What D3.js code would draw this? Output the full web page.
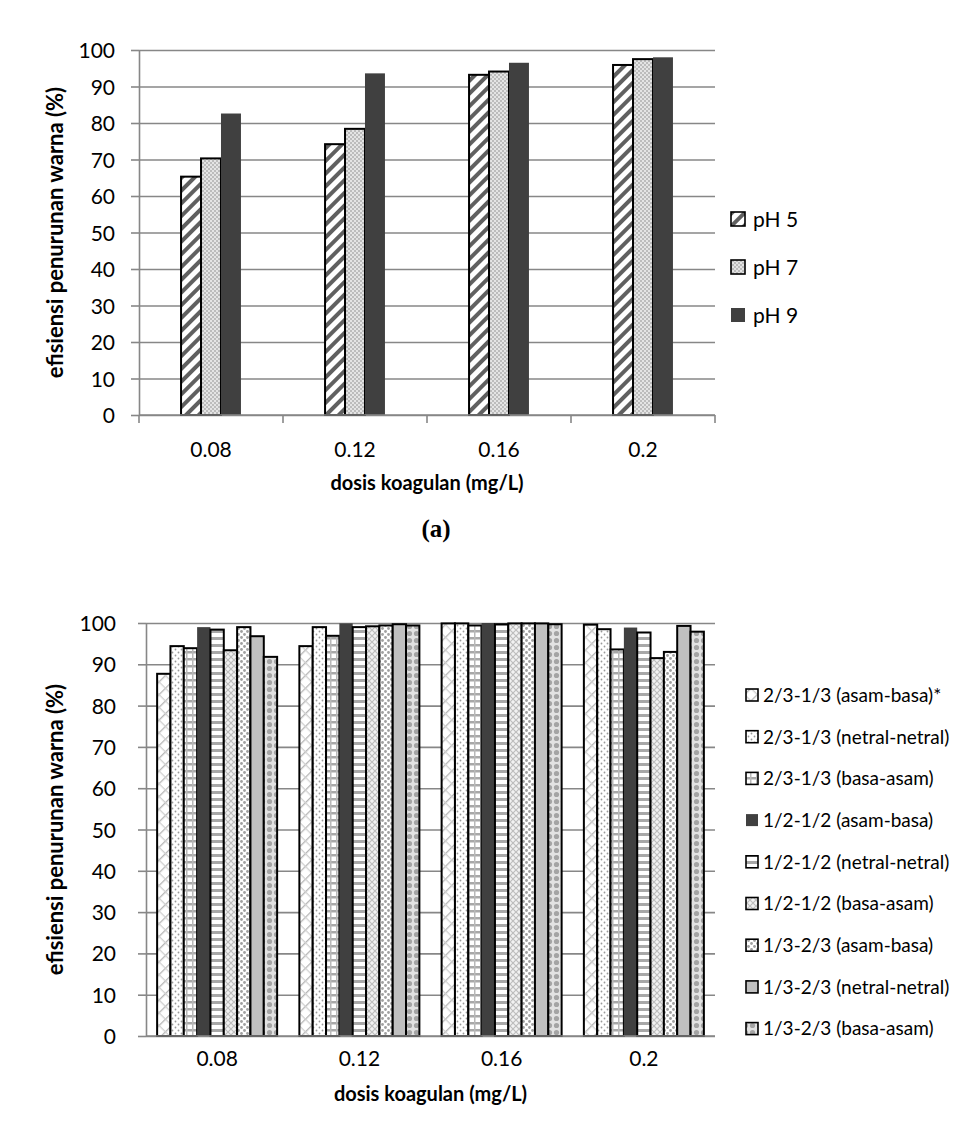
<!DOCTYPE html>
<html>
<head>
<meta charset="utf-8">
<script src="https://cdn.jsdelivr.net/npm/d3@7"></script>
<style>
  body { margin: 0; background: #fff; }
  svg { display: block; }
  text { font-family: Lato, "Open Sans", sans-serif; fill: #000; }
</style>
</head>
<body>
<div id="chart"></div>
<script>
// ---- data (a) ----
const dosesA = ['0.08', '0.12', '0.16', '0.2'];
const seriesA = ['pH 5', 'pH 7', 'pH 9'];
const pH5 = [65.3, 74.2, 93.2, 95.9];
const pH7 = [70.3, 78.4, 94.1, 97.5];
const pH9 = [82.6, 93.6, 96.5, 98.0];
const valuesA = [pH5, pH7, pH9];

// ---- data (b) ----
const dosesB = ['0.08', '0.12', '0.16', '0.2'];
const seriesB = [
  '2/3-1/3 (asam-basa)*', '2/3-1/3 (netral-netral)', '2/3-1/3 (basa-asam)',
  '1/2-1/2 (asam-basa)', '1/2-1/2 (netral-netral)', '1/2-1/2 (basa-asam)',
  '1/3-2/3 (asam-basa)', '1/3-2/3 (netral-netral)', '1/3-2/3 (basa-asam)'
];
const valuesB = [
  [87.7, 94.4, 99.9, 99.6],
  [94.4, 99.0, 99.9, 98.5],
  [93.9, 96.9, 99.4, 93.6],
  [99.0, 99.9, 100, 98.9],
  [98.4, 99.0, 99.7, 97.7],
  [93.4, 99.2, 99.9, 91.5],
  [99.0, 99.4, 99.9, 93.0],
  [96.8, 99.7, 99.9, 99.3],
  [91.8, 99.4, 99.7, 97.9]
];
const yTicks = [0, 10, 20, 30, 40, 50, 60, 70, 80, 90, 100];

const svg = d3.select('#chart').append('svg')
  .attr('width', 970).attr('height', 1126);
const defs = svg.append('defs');

// patterns
function pat(id, w, h, bg, draw, rot) {
  const p = defs.append('pattern').attr('id', id)
    .attr('patternUnits', 'userSpaceOnUse').attr('width', w).attr('height', h);
  if (rot) p.attr('patternTransform', `rotate(${rot})`);
  p.append('rect').attr('width', w).attr('height', h).attr('fill', bg);
  draw(p);
}
pat('ph5', 9, 9, '#fff', p => p.append('rect').attr('x', 0).attr('width', 4).attr('height', 9).attr('fill', '#606060'), 45);
pat('ph7', 4, 4, '#e4e4e4', p => {
  p.append('rect').attr('width', 2).attr('height', 2).attr('fill', '#bcbcbc');
  p.append('rect').attr('x', 2).attr('y', 2).attr('width', 2).attr('height', 2).attr('fill', '#bcbcbc');
});
pat('b1', 9, 9, '#fff', p => {
  p.append('rect').attr('width', 1.3).attr('height', 9).attr('fill', '#b4b4b4');
  p.append('rect').attr('width', 9).attr('height', 1.3).attr('fill', '#d0d0d0');
}, 45);
pat('b2', 6, 6, '#fff', p => {
  p.append('circle').attr('cx', 1.5).attr('cy', 1.5).attr('r', 0.9).attr('fill', '#9a9a9a');
  p.append('circle').attr('cx', 4.5).attr('cy', 4.5).attr('r', 0.9).attr('fill', '#9a9a9a');
});
pat('b3', 6, 7, '#fff', p => {
  p.append('rect').attr('y', 0).attr('width', 6).attr('height', 2.5).attr('fill', '#a8a8a8');
  p.append('rect').attr('x', 0).attr('width', 1.5).attr('height', 7).attr('fill', '#b8b8b8');
});
pat('b5', 6, 7, '#fff', p => p.append('rect').attr('width', 6).attr('height', 3).attr('fill', '#a8a8a8'));
pat('b6', 6, 6, '#f2f2f2', p => {
  p.append('path').attr('d', 'M0,0L6,6M6,0L0,6').attr('stroke', '#bdbdbd').attr('stroke-width', 1.2);
});
pat('b7', 6, 6, '#fff', p => {
  p.append('circle').attr('cx', 1.5).attr('cy', 1.5).attr('r', 1.4).attr('fill', '#a0a0a0');
  p.append('circle').attr('cx', 4.5).attr('cy', 4.5).attr('r', 1.4).attr('fill', '#a0a0a0');
});
pat('b9', 7, 7, '#e2e2e2', p => {
  p.append('circle').attr('cx', 3.5).attr('cy', 3.5).attr('r', 2.6).attr('fill', '#a4a4a4');
});

const fillsA = ['url(#ph5)', 'url(#ph7)', '#404040'];
const fillsB = ['url(#b1)', 'url(#b2)', 'url(#b3)', '#404040', 'url(#b5)',
  'url(#b6)', 'url(#b7)', '#c0c0c0', 'url(#b9)'];

function drawChart(cfg) {
  const { cats, series, values, fills, x0, x1, yTop, yBot, padInner, showXTicks, legend } = cfg;
  const g = svg.append('g');
  const xScale = d3.scaleBand().domain(cats).range([x0, x1])
    .paddingInner(padInner).paddingOuter(padInner / 2);
  const xSub = d3.scaleBand().domain(d3.range(series.length)).range([0, xScale.bandwidth()]);
  const yScale = d3.scaleLinear().domain([0, 100]).range([yBot, yTop]);

  // gridlines
  g.append('g').attr('transform', `translate(${x0},0)`)
    .call(d3.axisLeft(yScale).tickValues(yTicks).tickSize(-(x1 - x0)).tickFormat(''))
    .call(a => a.select('.domain').remove())
    .call(a => a.selectAll('line').attr('stroke', '#878787').attr('stroke-width', 1.6));

  // y axis
  g.append('g').attr('transform', `translate(${x0},0)`)
    .call(d3.axisLeft(yScale).tickValues(yTicks).tickSize(8).tickPadding(cfg.tickPad).tickSizeOuter(0))
    .call(a => a.select('.domain').attr('stroke', '#878787').attr('stroke-width', 1.6))
    .call(a => a.selectAll('line').attr('stroke', '#878787').attr('stroke-width', 1.6))
    .call(a => a.selectAll('text').style('font-size', '21px').attr('dy', '0.36em'));

  // bars
  series.forEach((s, i) => {
    g.selectAll(null).data(values[i]).enter().append('rect')
      .attr('x', (d, j) => xScale(cats[j]) + xSub(i))
      .attr('y', d => yScale(d))
      .attr('width', xSub.bandwidth())
      .attr('height', d => yBot - yScale(d))
      .attr('fill', fills[i])
      .attr('stroke', fills[i] === '#404040' ? 'none' : '#000')
      .attr('stroke-width', 2);
  });

  // x axis line
  g.append('line').attr('x1', x0).attr('x2', x1).attr('y1', yBot).attr('y2', yBot)
    .attr('stroke', '#878787').attr('stroke-width', 1.6);
  if (showXTicks) {
    const bounds = cats.map(c => xScale(c) - xScale.step() * padInner / 2).concat([x1]);
    g.selectAll(null).data(bounds).enter().append('line')
      .attr('x1', d => d).attr('x2', d => d).attr('y1', yBot).attr('y2', yBot + 8)
      .attr('stroke', '#878787').attr('stroke-width', 1.6);
  }
  g.selectAll(null).data(cats).enter().append('text')
    .attr('x', d => xScale(d) + xScale.bandwidth() / 2)
    .attr('y', yBot + cfg.labelOff)
    .attr('text-anchor', 'middle').style('font-size', '21px').text(d => d);

  // titles
  g.append('text').attr('x', (x0 + x1) / 2).attr('y', yBot + cfg.titleOff)
    .attr('text-anchor', 'middle').style('font-size', '20px').style('font-weight', 'bold')
    .text('dosis koagulan (mg/L)');
  g.append('text')
    .attr('transform', `translate(63,${(yTop + yBot) / 2}) rotate(-90)`)
    .attr('text-anchor', 'middle').style('font-size', '22px').style('font-weight', 'bold')
    .text('efisiensi penurunan warna (%)');

  // legend
  const lg = g.append('g');
  series.forEach((s, i) => {
    const yy = legend.y + i * legend.step;
    lg.append('rect').attr('x', legend.x).attr('y', yy - legend.box / 2)
      .attr('width', legend.box).attr('height', legend.box)
      .attr('fill', fills[i])
      .attr('stroke', fills[i] === '#404040' ? 'none' : '#000').attr('stroke-width', 1.6);
    lg.append('text').attr('x', legend.x + legend.box + legend.gap).attr('y', yy)
      .attr('dy', '0.36em').style('font-size', legend.font + 'px').text(s);
  });
}

drawChart({
  cats: dosesA, series: seriesA, values: valuesA, fills: fillsA,
  x0: 139, x1: 715, yTop: 50, yBot: 415, padInner: 0.584, showXTicks: true,
  tickPad: 16, labelOff: 42, titleOff: 75,
  legend: { x: 731, y: 219, step: 48, box: 14, gap: 8, font: 21 }
});

svg.append('text').attr('x', 436).attr('y', 537).attr('text-anchor', 'middle')
  .style('font-family', '"Liberation Serif", serif').style('font-size', '25px')
  .style('font-weight', 'bold').text('(a)');

drawChart({
  cats: dosesB, series: seriesB, values: valuesB, fills: fillsB,
  x0: 146, x1: 715, yTop: 623, yBot: 1036, padInner: 0.1564, showXTicks: false,
  tickPad: 22, labelOff: 30, titleOff: 65,
  legend: { x: 746, y: 695, step: 41.7, box: 12, gap: 5, font: 19 }
});
</script>
</body>
</html>
